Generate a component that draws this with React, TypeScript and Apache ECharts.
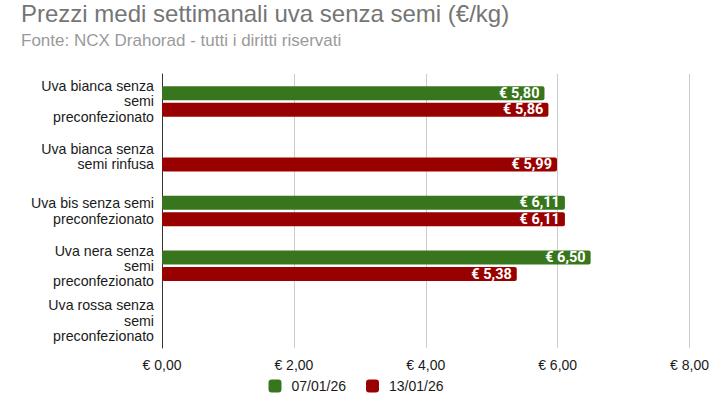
import React, { useEffect, useRef } from "react";
import * as echarts from "echarts";

const categories = [
  "Uva bianca senza semi preconfezionato",
  "Uva bianca senza semi rinfusa",
  "Uva bis senza semi preconfezionato",
  "Uva nera senza semi preconfezionato",
  "Uva rossa senza semi preconfezionato",
];
const categoryLines = [
  ["Uva bianca senza", "semi", "preconfezionato"],
  ["Uva bianca senza", "semi rinfusa"],
  ["Uva bis senza semi", "preconfezionato"],
  ["Uva nera senza", "semi", "preconfezionato"],
  ["Uva rossa senza", "semi", "preconfezionato"],
];
const seriesNames = ["07/01/26", "13/01/26"];
const values0701 = [5.8, null, 6.11, 6.5, null];
const values1301 = [5.86, 5.99, 6.11, 5.38, null];
const xTicks = [0, 2, 4, 6, 8];

const euro = (v: number) => "€ " + v.toFixed(2).replace(".", ",");
const FONT = "Liberation Sans, Arial, sans-serif";

export default function App() {
  const ref = useRef<HTMLDivElement>(null);
  useEffect(() => {
    const chart = echarts.init(ref.current!, null, { renderer: "svg" });
    const label = {
      show: true,
      position: "insideRight",
      distance: 5,
      color: "#ffffff",
      fontFamily: "Roboto",
      fontWeight: "bold",
      fontSize: 14.5,
      formatter: (p: any) => euro(p.value),
    };
    chart.setOption({
      animation: false,
      textStyle: { fontFamily: FONT },
      title: {
        text: "Prezzi medi settimanali uva senza semi (€/kg)",
        subtext: "Fonte: NCX Drahorad - tutti i diritti riservati",
        left: 16,
        top: 1,
        padding: [0, 5, 5, 5],
        itemGap: 7,
        textStyle: { fontSize: 24, fontWeight: "normal", color: "#757575", fontFamily: FONT },
        subtextStyle: { fontSize: 17, color: "#9a9a9a", fontFamily: FONT },
      },
      legend: {
        bottom: 3,
        left: "center",
        itemWidth: 13,
        itemHeight: 13,
        itemGap: 20,
        icon: "roundRect",
        textStyle: { fontSize: 14, color: "#1a1a1a", fontFamily: FONT, padding: [0, 0, 0, 5] },
        data: seriesNames,
      },
      grid: { left: 162, right: 20, top: 74, bottom: 53, containLabel: false },
      xAxis: {
        type: "value",
        min: xTicks[0],
        max: xTicks[xTicks.length - 1],
        interval: 2,
        axisLine: { show: false },
        axisTick: { show: false },
        splitLine: { lineStyle: { color: "#cccccc", width: 1 } },
        axisLabel: { formatter: (v: number) => euro(v), fontSize: 14, color: "#1a1a1a", margin: 10, fontFamily: FONT },
      },
      yAxis: {
        type: "category",
        inverse: true,
        data: categories,
        axisLine: { show: true, lineStyle: { color: "#333", width: 1 } },
        axisTick: { show: false },
        axisLabel: {
          fontSize: 14.2,
          color: "#1a1a1a",
          lineHeight: 15.2,
          align: "right",
          margin: 8,
          fontFamily: FONT,
          formatter: (v: string) => {
            const i = categories.indexOf(v);
            return i >= 0 ? categoryLines[i].join("\n") : v;
          },
        },
      },
      series: [
        {
          name: seriesNames[0],
          type: "bar",
          data: values0701,
          barWidth: 14,
          barGap: "18%",
          itemStyle: { color: "#38761d", borderRadius: 2 },
          label,
        },
        {
          name: seriesNames[1],
          type: "bar",
          data: values1301,
          barWidth: 14,
          itemStyle: { color: "#990000", borderRadius: 2 },
          label,
        },
      ],
    });
    return () => chart.dispose();
  }, []);
  return <div ref={ref} style={{ position: "absolute", left: 0, top: 0, width: 712, height: 401 }} />;
}
